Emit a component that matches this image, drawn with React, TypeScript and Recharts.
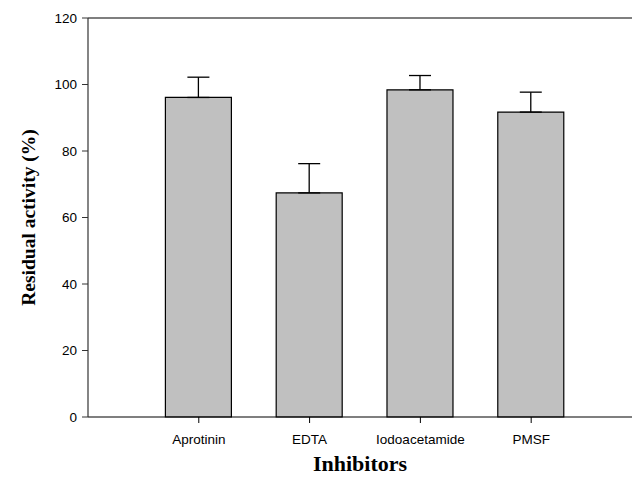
import React from 'react';
import {
  BarChart,
  Bar,
  XAxis,
  YAxis,
  ErrorBar,
  ReferenceLine,
  Label
} from 'recharts';

const inhibitors = ['Aprotinin', 'EDTA', 'Iodoacetamide', 'PMSF'];
const activity = [96.1, 67.4, 98.4, 91.7];
const errorUp = [6.1, 8.8, 4.3, 6.0];
const yTicks = [0, 20, 40, 60, 80, 100, 120];

const data = inhibitors.map((name, i) => ({
  pos: i + 1,
  name,
  activity: activity[i],
  err: [0, errorUp[i]]
}));

const tickFont = { fontFamily: 'Arial, "Liberation Sans", sans-serif', fontSize: 13.5, fill: '#000' };
const titleFont = { fontFamily: '"Times New Roman", "Liberation Serif", serif', fontWeight: 'bold', fill: '#000' };

export default function App() {
  return (
    <div style={{ position: 'absolute', left: 0, top: 0, width: 632, height: 477, background: '#fff' }}>
      <BarChart
        width={632}
        height={477}
        data={data}
        margin={{ top: 18, right: 0, bottom: 0, left: 0 }}
      >
        <XAxis
          dataKey="pos"
          type="number"
          domain={[0, 4.91]}
          allowDataOverflow
          ticks={[1, 2, 3, 4]}
          tickFormatter={(v: number) => inhibitors[v - 1] ?? ''}
          tick={tickFont}
          height={60}
          tickSize={6}
          tickMargin={11}
          axisLine={{ stroke: '#000', strokeWidth: 1.2 }}
          tickLine={{ stroke: '#000' }}
        >
          <Label value="Inhibitors" position="insideBottom" offset={6} style={{ ...titleFont, fontSize: 22 }} />
        </XAxis>
        <YAxis
          type="number"
          domain={[0, 120]}
          ticks={yTicks}
          width={88}
          tick={tickFont}
          tickSize={6}
          tickMargin={5}
          axisLine={{ stroke: '#333', strokeWidth: 1.2 }}
          tickLine={{ stroke: '#333' }}
        >
          <Label
            value="Residual activity (%)"
            angle={-90}
            position="insideLeft"
            offset={28}
            style={{ ...titleFont, fontSize: 19.5, textAnchor: 'middle' }}
          />
        </YAxis>
        <ReferenceLine y={120} stroke="#000" strokeWidth={1.2} />
        <Bar
          dataKey="activity"
          fill="#c0c0c0"
          stroke="#000"
          strokeWidth={1.2}
          barSize={66}
          isAnimationActive={false}
        >
          <ErrorBar dataKey="err" direction="y" width={11} stroke="#000" strokeWidth={1.3} />
        </Bar>
      </BarChart>
    </div>
  );
}
